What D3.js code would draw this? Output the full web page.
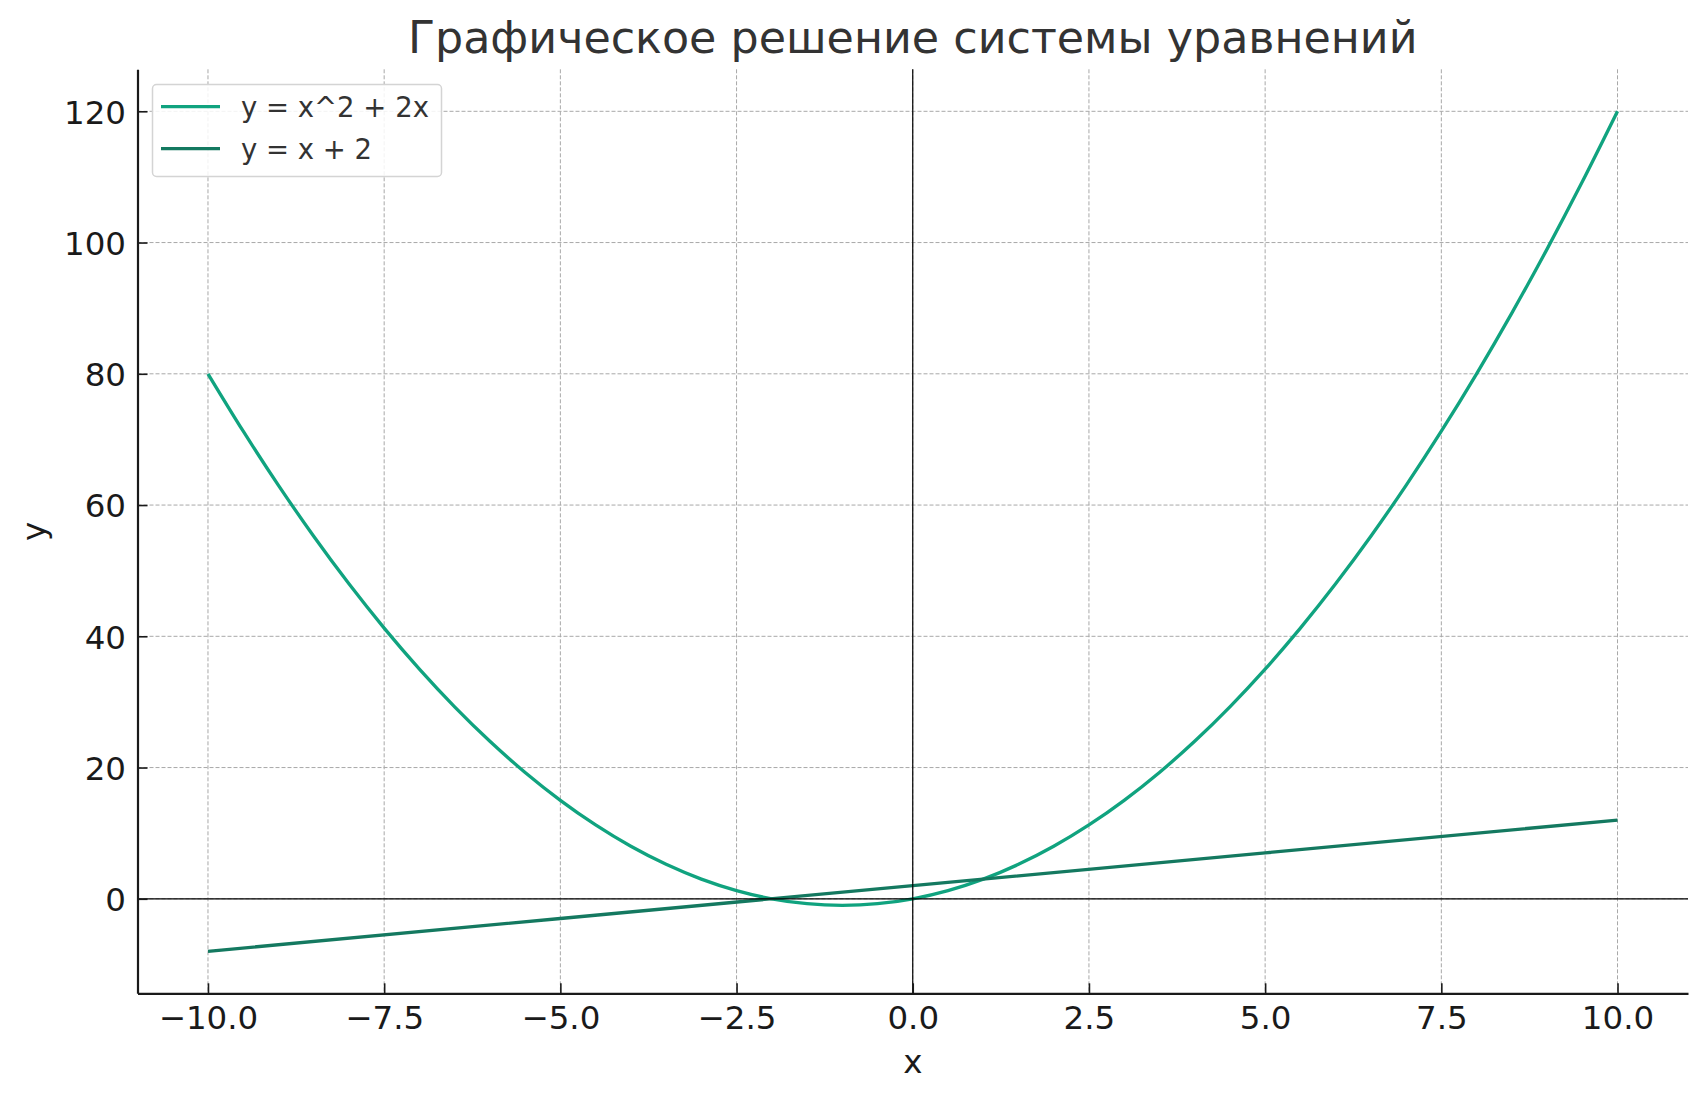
<!DOCTYPE html>
<html>
<head>
<meta charset="utf-8">
<script src="https://cdn.jsdelivr.net/npm/d3@7"></script>
<style>
  html, body { margin: 0; padding: 0; background: #fff; }
  svg { display: block; font-family: "DejaVu Sans", sans-serif; }
</style>
</head>
<body>
<svg id="chart" width="1707" height="1101"></svg>
<script>
// ---- data ----
const titleText = "Графическое решение системы уравнений";
const xLabel = "x";
const yLabel = "y";
const seriesNames = ["y = x^2 + 2x", "y = x + 2"];

const parabolaX = [-10, -9.5, -9, -8.5, -8, -7.5, -7, -6.5, -6, -5.5, -5, -4.5, -4, -3.5, -3, -2.5, -2, -1.5, -1, -0.5,
                   0, 0.5, 1, 1.5, 2, 2.5, 3, 3.5, 4, 4.5, 5, 5.5, 6, 6.5, 7, 7.5, 8, 8.5, 9, 9.5, 10];
const parabolaY = [80, 71.25, 63, 55.25, 48, 41.25, 35, 29.25, 24, 19.25, 15, 11.25, 8, 5.25, 3, 1.25, 0, -0.75, -1, -0.75,
                   0, 1.25, 3, 5.25, 8, 11.25, 15, 19.25, 24, 29.25, 35, 41.25, 48, 55.25, 63, 71.25, 80, 89.25, 99, 109.25, 120];

const lineX = [-10, -5, 0, 5, 10];
const lineY = [-8, -3, 2, 7, 12];

const xTicks = [-10, -7.5, -5, -2.5, 0, 2.5, 5, 7.5, 10];
const yTicks = [0, 20, 40, 60, 80, 100, 120];

const colors = ["#10a37f", "#147960"];

// ---- layout ----
const svg = d3.select("#chart");
const mLeft = 137.5, mRight = 1688, mTop = 69.3, mBottom = 993.3;

const x = d3.scaleLinear().domain([-11, 11]).range([mLeft, mRight]);
const y = d3.scaleLinear().domain([-14.4, 126.4]).range([mBottom, mTop]);

const fmtX = v => (v < 0 ? "\u2212" : "") + Math.abs(v).toFixed(1);

// grid
const grid = svg.append("g");
grid.selectAll("line.gx").data(xTicks).enter().append("line")
  .attr("x1", d => x(d)).attr("x2", d => x(d)).attr("y1", mTop).attr("y2", mBottom)
  .attr("stroke", "#a8a8a8").attr("stroke-width", 1).attr("stroke-dasharray", "4,2");
grid.selectAll("line.gy").data(yTicks).enter().append("line")
  .attr("x1", mLeft).attr("x2", mRight).attr("y1", d => y(d)).attr("y2", d => y(d))
  .attr("stroke", "#a8a8a8").attr("stroke-width", 1).attr("stroke-dasharray", "4,2");

// curves
const parData = parabolaX.map((v, i) => [v, parabolaY[i]]);
const linData = lineX.map((v, i) => [v, lineY[i]]);

svg.append("path").datum(parData)
  .attr("d", d3.line().x(d => x(d[0])).y(d => y(d[1])).curve(d3.curveMonotoneX))
  .attr("fill", "none").attr("stroke", colors[0]).attr("stroke-width", 3.3);
svg.append("path").datum(linData)
  .attr("d", d3.line().x(d => x(d[0])).y(d => y(d[1])))
  .attr("fill", "none").attr("stroke", colors[1]).attr("stroke-width", 3.3);

// zero lines
svg.append("line").attr("x1", mLeft).attr("x2", mRight).attr("y1", y(0)).attr("y2", y(0))
  .attr("stroke", "#000").attr("stroke-width", 1.2);
svg.append("line").attr("x1", x(0)).attr("x2", x(0)).attr("y1", mTop).attr("y2", mBottom)
  .attr("stroke", "#000").attr("stroke-width", 1.2);

// axes
const xAxis = d3.axisBottom(x).tickValues(xTicks).tickFormat(fmtX).tickSizeInner(-10).tickSizeOuter(0).tickPadding(13);
const yAxis = d3.axisLeft(y).tickValues(yTicks).tickFormat(d3.format("d")).tickSizeInner(-10).tickSizeOuter(0).tickPadding(11.5);

const gx = svg.append("g").attr("transform", `translate(0,${mBottom})`).call(xAxis);
const gy = svg.append("g").attr("transform", `translate(${mLeft},0)`).call(yAxis);

[gx, gy].forEach(g => {
  g.select(".domain").attr("stroke", "#1a1a1a").attr("stroke-width", 2.2);
  g.selectAll(".tick line").attr("stroke", "#1a1a1a").attr("stroke-width", 1.6);
  g.selectAll(".tick text").attr("fill", "#1a1a1a").attr("font-size", 32.5)
    .attr("font-family", "DejaVu Sans, sans-serif");
});
gx.selectAll(".tick text").attr("dy", "0.71em");
gy.selectAll(".tick text").attr("dy", "0.36em");

// labels
svg.append("text").attr("x", (mLeft + mRight) / 2).attr("y", 1073).attr("text-anchor", "middle")
  .attr("font-size", 32.5).attr("fill", "#1a1a1a").text(xLabel);
svg.append("text").attr("transform", `translate(45,${(mTop + mBottom) / 2}) rotate(-90)`)
  .attr("text-anchor", "middle").attr("font-size", 32.5).attr("fill", "#1a1a1a").text(yLabel);

// title
svg.append("text").attr("x", (mLeft + mRight) / 2).attr("y", 53).attr("text-anchor", "middle")
  .attr("font-size", 44.4).attr("fill", "#333333").text(titleText);

// legend
const lg = svg.append("g");
lg.append("rect").attr("x", 152.5).attr("y", 84.5).attr("width", 289).attr("height", 92)
  .attr("rx", 4).attr("fill", "rgba(255,255,255,0.85)").attr("stroke", "#d4d4d4").attr("stroke-width", 1.5);
const legY = [106.7, 148.7];
seriesNames.forEach((name, i) => {
  lg.append("line").attr("x1", 161).attr("x2", 220).attr("y1", legY[i]).attr("y2", legY[i])
    .attr("stroke", colors[i]).attr("stroke-width", 3.3);
  lg.append("text").attr("x", 241).attr("y", legY[i]).attr("dy", "0.36em")
    .attr("font-size", 27.5).attr("fill", "#333333").text(name);
});
</script>
</body>
</html>
